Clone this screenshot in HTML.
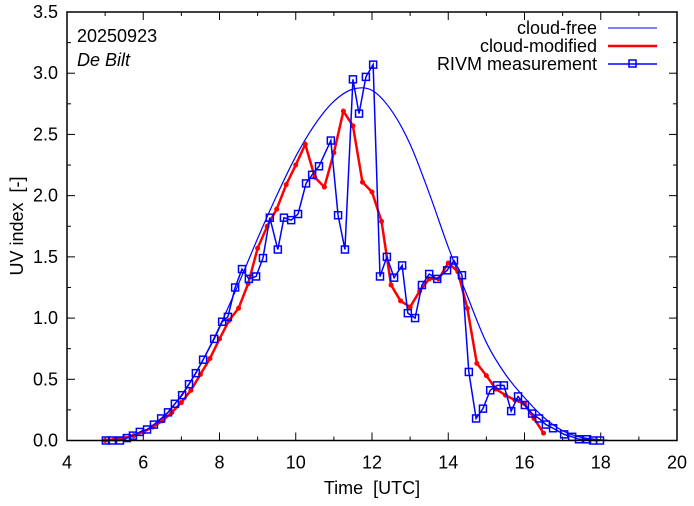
<!DOCTYPE html>
<html><head><meta charset="utf-8"><style>
body{margin:0;background:#fff}
svg text{font-family:"Liberation Sans",sans-serif;font-size:18px;fill:#000;white-space:pre}
</style></head><body>
<svg id="chart" width="694" height="501" viewBox="0 0 694 501" xmlns="http://www.w3.org/2000/svg">
<g id="grid"></g>
<g id="series"></g>
<rect x="67" y="12" width="610" height="428.5" fill="none" stroke="#000" stroke-width="1.5"/>
<text x="77" y="42">20250923</text>
<text x="77" y="66" font-style="italic">De Bilt</text>
<g>
<text x="597" y="34" text-anchor="end">cloud-free</text>
<line x1="608" y1="28" x2="657" y2="28" stroke="#0000ff" stroke-width="1"/>
<text x="597" y="52" text-anchor="end">cloud-modified</text>
<line x1="608" y1="46" x2="657" y2="46" stroke="#ff0000" stroke-width="2.5"/>
<text x="597" y="70" text-anchor="end">RIVM measurement</text>
<line x1="608" y1="64" x2="657" y2="64" stroke="#0000ff" stroke-width="1.5"/>
<rect x="629" y="60" width="7" height="7" fill="none" stroke="#0000ff" stroke-width="1.5"/>
</g>
<text x="372" y="494" text-anchor="middle">Time  [UTC]</text>
<text transform="translate(23,226) rotate(-90)" text-anchor="middle">UV index  [-]</text>
</svg>
<script>
const xTicks=[4,6,8,10,12,14,16,18,20];
const yTicks=[0,0.5,1,1.5,2,2.5,3,3.5];
const yTickLabels=["0.0","0.5","1.0","1.5","2.0","2.5","3.0","3.5"];
const clearT=[4.9,5.5,6,6.5,7,7.5,8,8.5,9,9.5,10,10.5,11,11.5,12,12.5,13,13.5,14,14.5,15,15.5,16,16.5,17,17.5,18.2];
const clearV=[0,0.02,0.07,0.18,0.37,0.62,0.93,1.28,1.65,2.0,2.32,2.58,2.77,2.87,2.86,2.70,2.42,2.02,1.58,1.18,0.80,0.54,0.35,0.19,0.08,0.025,0];
const modT=[5,5.25,5.5,5.75,6,6.25,6.5,6.75,7,7.25,7.5,7.75,8,8.25,8.5,8.75,9,9.25,9.5,9.75,10,10.25,10.5,10.75,11,11.25,11.5,11.75,12,12.25,12.5,12.75,13,13.25,13.5,13.75,14,14.25,14.5,14.75,15,15.25,15.5,15.75,16,16.25,16.5];
const modV=[0,0.01,0.02,0.04,0.07,0.11,0.16,0.23,0.31,0.41,0.54,0.67,0.83,0.98,1.08,1.28,1.57,1.75,1.89,2.09,2.25,2.42,2.15,2.07,2.35,2.69,2.57,2.11,2.03,1.79,1.27,1.14,1.09,1.22,1.32,1.32,1.45,1.38,1.08,0.63,0.53,0.42,0.37,0.33,0.30,0.18,0.06];
const measT=[5.02,5.18,5.39,5.57,5.73,5.91,6.10,6.28,6.47,6.65,6.83,7.02,7.20,7.38,7.57,7.86,8.07,8.22,8.41,8.59,8.77,8.96,9.14,9.32,9.53,9.69,9.88,10.06,10.27,10.43,10.61,10.92,11.11,11.29,11.50,11.66,11.84,12.03,12.21,12.39,12.58,12.79,12.94,13.13,13.31,13.50,13.71,13.97,14.15,14.36,14.54,14.73,14.91,15.10,15.28,15.46,15.65,15.83,16.01,16.20,16.38,16.56,16.75,17.04,17.25,17.43,17.64,17.80,17.98];
const measV=[0,0,0,0.02,0.04,0.07,0.09,0.13,0.18,0.23,0.30,0.37,0.46,0.55,0.66,0.83,0.97,1.01,1.25,1.40,1.32,1.34,1.49,1.82,1.56,1.82,1.80,1.85,2.10,2.17,2.24,2.45,1.84,1.56,2.95,2.67,2.97,3.07,1.34,1.50,1.33,1.43,1.04,1.00,1.27,1.36,1.32,1.39,1.47,1.35,0.56,0.18,0.26,0.41,0.45,0.45,0.24,0.36,0.29,0.22,0.18,0.13,0.10,0.05,0.03,0.01,0.01,0,0];
const X0=67,X1=677,Y0=440.5,Y1=12;
const xs=t=>X0+(t-4)/16*(X1-X0);
const ys=v=>Y0-v/3.5*(Y0-Y1);
const NS="http://www.w3.org/2000/svg";
const grid=document.getElementById('grid'),ser=document.getElementById('series');
function mk(tag,attrs,parent){const e=document.createElementNS(NS,tag);for(const k in attrs)e.setAttribute(k,attrs[k]);parent.appendChild(e);return e;}
for(let t=4;t<=20;t+=1){const maj=(t%2===0),L=maj?8:4;
 const a=mk('line',{x1:xs(t),x2:xs(t),y1:Y0,y2:Y0-L,stroke:'#000'},grid);
 
 
 mk('line',{x1:xs(t),x2:xs(t),y1:Y1,y2:Y1+L,stroke:'#000'},grid);}
xTicks.forEach(t=>{const e=mk('text',{x:xs(t),y:Y0+28,'text-anchor':'middle'},grid);e.textContent=t;
 
 });
for(let v=0;v<=3.5001;v+=0.25){const maj=Math.abs(v*2-Math.round(v*2))<1e-6,L=maj?8:4;
 const a=mk('line',{x1:X0,x2:X0+L,y1:ys(v),y2:ys(v),stroke:'#000'},grid);
 
 
 mk('line',{x1:X1,x2:X1-L,y1:ys(v),y2:ys(v),stroke:'#000'},grid);}
yTicks.forEach((v,i)=>{const e=mk('text',{x:X0-9,y:ys(v)+6,'text-anchor':'end'},grid);e.textContent=yTickLabels[i];
 
 });
let P=clearT.map((t,i)=>[xs(t),ys(clearV[i])]);
let d='M'+P[0][0]+','+P[0][1];
for(let i=0;i<P.length-1;i++){const p0=P[Math.max(0,i-1)],p1=P[i],p2=P[i+1],p3=P[Math.min(P.length-1,i+2)];
 d+=' C'+(p1[0]+(p2[0]-p0[0])/6)+','+(p1[1]+(p2[1]-p0[1])/6)+' '+(p2[0]-(p3[0]-p1[0])/6)+','+(p2[1]-(p3[1]-p1[1])/6)+' '+p2[0]+','+p2[1];}
const cf=mk('path',{d:d,fill:'none',stroke:'#0000ff','stroke-width':1.2},ser);


const cm=mk('polyline',{points:modT.map((t,i)=>xs(t)+','+ys(modV[i])).join(' '),fill:'none',stroke:'#ff0000','stroke-width':2.5},ser);


modT.forEach((t,i)=>{const c=mk('circle',{cx:xs(t),cy:ys(modV[i]),r:2.5,fill:'#ff0000'},ser);
 
 });
const ml=mk('polyline',{points:measT.map((t,i)=>xs(t)+','+ys(measV[i])).join(' '),fill:'none',stroke:'#0000ff','stroke-width':1.5},ser);


measT.forEach((t,i)=>{const r=mk('rect',{x:xs(t)-3.5,y:ys(measV[i])-3.5,width:7,height:7,fill:'none',stroke:'#0000ff','stroke-width':1.5},ser);
 
 });
</script>
</body></html>
